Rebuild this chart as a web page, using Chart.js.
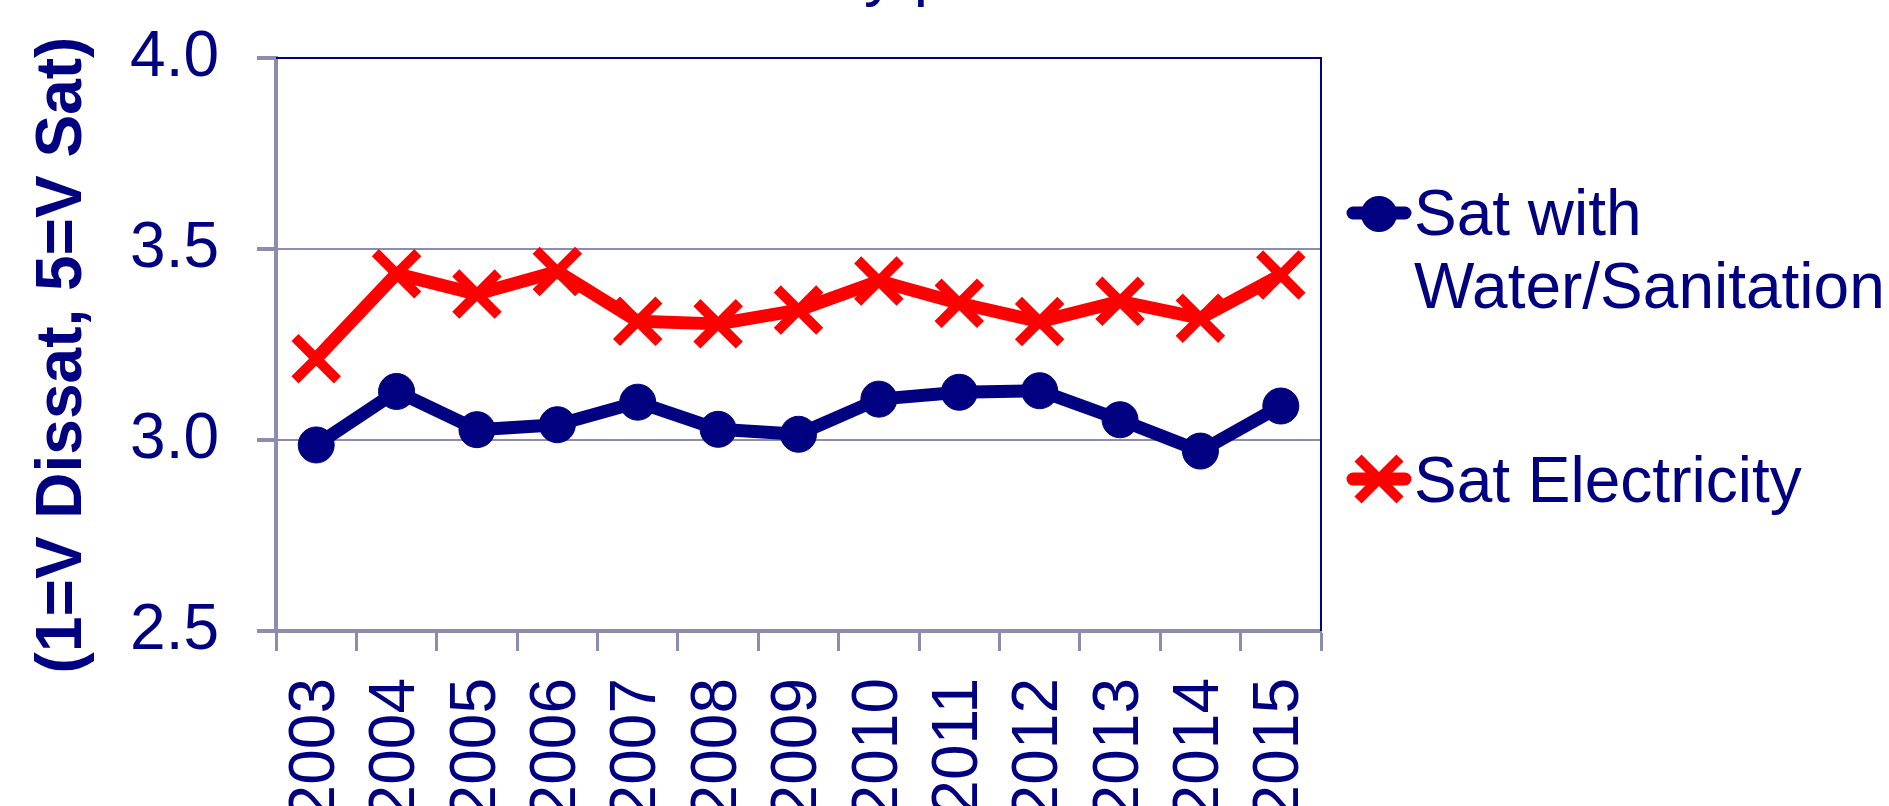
<!DOCTYPE html>
<html>
<head>
<meta charset="utf-8">
<script src="https://cdn.jsdelivr.net/npm/chart.js@4.4.1/dist/chart.umd.min.js"></script>
<style>
  html, body { margin: 0; padding: 0; background: #fff; overflow: hidden; }
  #wrap { width: 1889px; height: 806px; }
</style>
</head>
<body>
<div id="wrap"><canvas id="satChart" width="1889" height="806"></canvas></div>
<script>
// values
const years = ['2003', '2004', '2005', '2006', '2007', '2008', '2009', '2010', '2011', '2012', '2013', '2014', '2015'];
const waterSanitation = [2.987, 3.127, 3.027, 3.040, 3.099, 3.028, 3.015, 3.107, 3.125, 3.129, 3.053, 2.971, 3.089];
const electricity = [3.213, 3.435, 3.382, 3.441, 3.311, 3.304, 3.340, 3.416, 3.358, 3.310, 3.363, 3.319, 3.432];
const yTicks = [2.5, 3.0, 3.5, 4.0];

const NAVY = '#000080';
const RED = '#ff0000';
const AXIS_GREY = '#8c8cad';
const FONT = '"Liberation Sans", Arial, sans-serif';

// title sits mostly above the canvas, only its descenders show
const topTitle = {
  id: 'topTitle',
  afterDraw(chart) {
    const ctx = chart.ctx;
    const text = 'Satisfaction with Utility provision';
    ctx.save();
    ctx.font = `64px ${FONT}`;
    ctx.fillStyle = NAVY;
    ctx.textBaseline = 'alphabetic';
    const before = ctx.measureText('Satisfaction with Utilit').width;
    ctx.fillText(text, 864 - before, -6);
    ctx.restore();
  },
};

// y axis title, placed a little below the plot centre like the original
const yTitle = {
  id: 'yTitle',
  afterDraw(chart) {
    const ctx = chart.ctx;
    ctx.save();
    ctx.translate(63, 355);
    ctx.rotate(-Math.PI / 2);
    ctx.font = `bold 64px ${FONT}`;
    ctx.fillStyle = NAVY;
    ctx.textAlign = 'center';
    ctx.textBaseline = 'middle';
    ctx.fillText('(1=V Dissat, 5=V Sat)', 0, 0);
    ctx.restore();
  },
};

// navy frame on top and right of the plot
const plotFrame = {
  id: 'plotFrame',
  beforeDatasetsDraw(chart) {
    const { ctx, chartArea: a } = chart;
    ctx.save();
    ctx.strokeStyle = NAVY;
    ctx.lineWidth = 2;
    ctx.beginPath();
    ctx.moveTo(a.left, a.top);
    ctx.lineTo(a.right, a.top);
    ctx.lineTo(a.right, a.bottom);
    ctx.stroke();
    ctx.restore();
  },
};

// legend to the right: short line with marker, then text
const sideLegend = {
  id: 'sideLegend',
  afterDraw(chart) {
    const ctx = chart.ctx;
    const x0 = 1347, x1 = 1411, cx = 1379, tx = 1414;
    ctx.save();
    ctx.lineCap = 'round';

    // water / sanitation
    ctx.strokeStyle = NAVY;
    ctx.fillStyle = NAVY;
    ctx.lineWidth = 13;
    ctx.beginPath(); ctx.moveTo(x0 + 6, 213); ctx.lineTo(x1 - 6, 213); ctx.stroke();
    ctx.beginPath(); ctx.arc(cx, 214, 18, 0, Math.PI * 2); ctx.fill();

    // electricity
    ctx.strokeStyle = RED;
    ctx.beginPath(); ctx.moveTo(x0 + 6, 479); ctx.lineTo(x1 - 6, 479); ctx.stroke();
    ctx.lineWidth = 10;
    ctx.lineCap = 'butt';
    ctx.beginPath();
    ctx.moveTo(cx - 21, 479 - 21); ctx.lineTo(cx + 21, 479 + 21);
    ctx.moveTo(cx - 21, 479 + 21); ctx.lineTo(cx + 21, 479 - 21);
    ctx.stroke();

    ctx.font = `64px ${FONT}`;
    ctx.fillStyle = NAVY;
    ctx.textBaseline = 'alphabetic';
    ctx.fillText('Sat with', tx, 235);
    ctx.fillText('Water/Sanitation', tx, 308);
    ctx.fillText('Sat Electricity', tx, 502);
    ctx.restore();
  },
};

new Chart(document.getElementById('satChart'), {
  type: 'line',
  data: {
    labels: years,
    datasets: [
      {
        label: 'Sat with Water/Sanitation',
        data: waterSanitation,
        borderColor: NAVY,
        backgroundColor: NAVY,
        borderWidth: 13,
        borderJoinStyle: 'round',
        pointStyle: 'circle',
        pointRadius: 18,
        pointBorderWidth: 1,
        pointBackgroundColor: NAVY,
        pointBorderColor: NAVY,
        tension: 0,
      },
      {
        label: 'Sat Electricity',
        data: electricity,
        borderColor: RED,
        backgroundColor: RED,
        borderWidth: 13,
        borderJoinStyle: 'round',
        pointStyle: 'crossRot',
        pointRadius: 30,
        pointBorderWidth: 10,
        pointBorderColor: RED,
        tension: 0,
      },
    ],
  },
  options: {
    responsive: false,
    animation: false,
    layout: { padding: { top: 58, right: 568, left: 0, bottom: 0 } },
    plugins: {
      legend: { display: false },
      tooltip: { enabled: false },
    },
    scales: {
      x: {
        offset: true,
        afterFit: (scale) => { scale.height = 175; },
        grid: {
          offset: true,
          drawOnChartArea: false,
          drawTicks: true,
          tickLength: 20,
          tickColor: AXIS_GREY,
          tickWidth: 3,
        },
        border: { display: true, color: AXIS_GREY, width: 4 },
        ticks: {
          autoSkip: false,
          minRotation: 90,
          maxRotation: 90,
          padding: 27,
          color: NAVY,
          font: { family: FONT, size: 64 },
        },
      },
      y: {
        min: 2.5,
        max: 4.0,
        afterFit: (scale) => {
          scale.width = 276;
          scale.paddingTop = 0;
          scale.paddingBottom = 0;
        },
        afterBuildTicks: (scale) => { scale.ticks = yTicks.map((v) => ({ value: v })); },
        grid: {
          color: AXIS_GREY,
          lineWidth: 2,
          tickLength: 19,
          tickColor: AXIS_GREY,
          tickWidth: 4,
        },
        border: { display: true, color: AXIS_GREY, width: 4 },
        ticks: {
          padding: 38,
          color: NAVY,
          font: { family: FONT, size: 64 },
          callback: (v) => Number(v).toFixed(1),
        },
      },
    },
  },
  plugins: [topTitle, yTitle, plotFrame, sideLegend],
});
</script>
</body>
</html>
